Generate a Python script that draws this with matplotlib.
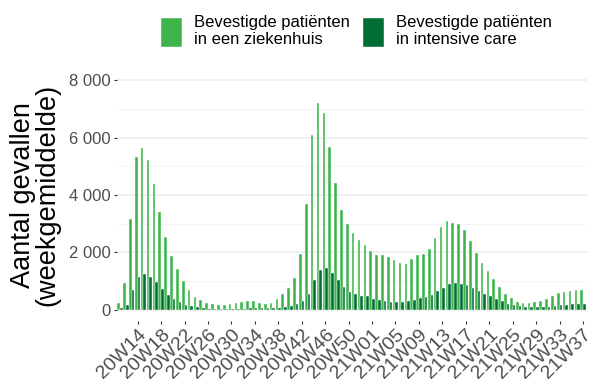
import numpy as np
import matplotlib.pyplot as plt

plt.rcParams['font.family'] = ['Liberation Sans', 'DejaVu Sans']

# weeks 2020-W11 .. 2020-W53 and 2021-W01 .. 2021-W37
weeks = ["20W%02d" % w for w in range(11, 54)] + ["21W%02d" % w for w in range(1, 38)]

# weekly averages, patients in hospital
ziekenhuis = [255, 927, 3176, 5320, 5645, 5216, 4393, 3408, 2550, 1866,
              1414, 997, 695, 464, 336, 243, 197, 162, 162, 197,
              255, 267, 301, 301, 243, 209, 232, 371, 568, 753,
              1113, 1947, 3697, 6085, 7197, 6838, 5679, 4416, 3477,
              2979, 2666, 2422, 2248, 2040, 1912, 1924, 1831, 1727, 1623,
              1588, 1785, 1901, 1936, 2133, 2492, 2898, 3095, 3037, 2990,
              2770, 2399, 1970, 1646, 1368, 1066, 811, 556, 406, 290,
              243, 243, 278, 313, 394, 475, 580, 614, 661, 695, 695]

# weekly averages, patients in intensive care
intensive = [60, 185, 684, 1159, 1263, 1147, 962, 742, 533, 382,
             267, 185, 127, 93, 70, 46, 35, 30, 30, 35,
             45, 50, 55, 60, 60, 55, 55, 70, 104, 150,
             209, 324, 568, 1031, 1402, 1449, 1286, 1031, 800,
             637, 556, 498, 475, 394, 359, 324, 290, 290, 290,
             301, 359, 417, 452, 533, 649, 777, 892, 927, 904,
             869, 753, 649, 568, 487, 371, 301, 220, 162, 127,
             104, 93, 93, 93, 104, 127, 162, 185, 197, 220, 220]

labels = ["Bevestigde patiënten\nin een ziekenhuis",
          "Bevestigde patiënten\nin intensive care"]
kleuren = ["#3db54a", "#006d35"]

x = np.arange(len(weeks))
w = 0.45

fig = plt.figure(figsize=(5.9, 3.85), dpi=100)
ax = fig.add_axes([0.1975, 0.165, 0.7966, 0.657])

b1 = ax.bar(x - w / 2, ziekenhuis, width=w, color=kleuren[0],
            edgecolor="white", linewidth=0.3, label=labels[0], zorder=3)
b2 = ax.bar(x + w / 2, intensive, width=w, color=kleuren[1],
            edgecolor="white", linewidth=0.3, label=labels[1], zorder=3)

ax.set_xlim(-0.6, len(weeks) - 0.4)
ax.set_ylim(-400, 8400)

ax.set_yticks(np.arange(0, 8001, 2000))
ax.set_yticklabels(["0", "2 000", "4 000", "6 000", "8 000"])
ax.set_yticks(np.arange(1000, 8000, 2000), minor=True)
ax.grid(axis="y", which="major", color="#ebebeb", linewidth=1.1, zorder=0)
ax.grid(axis="y", which="minor", color="#f4f4f4", linewidth=0.8, zorder=0)

tick_idx = x[3::4]
ax.set_xticks(tick_idx)
ax.set_xticklabels([weeks[i] for i in tick_idx], rotation=45,
                   ha="right", va="top", rotation_mode="anchor")

for s in ax.spines.values():
    s.set_visible(False)
ax.tick_params(axis="both", which="major", colors="#333333", labelcolor="#4d4d4d",
               length=2.5, width=0.8, pad=2)
ax.tick_params(axis="y", labelsize=12)
ax.tick_params(axis="x", labelsize=14, pad=1)
ax.tick_params(axis="y", which="minor", length=0)

ax.set_ylabel("Aantal gevallen\n(weekgemiddelde)", fontsize=19.5,
              linespacing=0.9, labelpad=6)

fig.legend(handles=[b1, b2], loc="upper left", bbox_to_anchor=(0.248, 1.0),
           ncol=2, frameon=False, fontsize=12, handlelength=1.25,
           handleheight=2.3, handletextpad=0.7, columnspacing=0.8,
           labelspacing=0.2)

fig.savefig("out.png", dpi=100)
